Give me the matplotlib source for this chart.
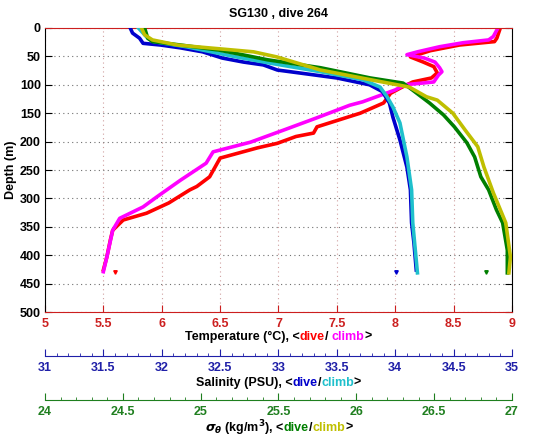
import matplotlib
matplotlib.use("Agg")
import matplotlib.pyplot as plt
import numpy as np

# Temperature dive / climb (depth m, deg C)
td_depth = [0, 18, 24, 27, 30, 40, 51, 60, 68, 79, 88, 95, 105, 115, 132, 150, 174, 185, 191, 203, 211, 229, 262, 279, 285, 308, 326, 338, 356, 373, 403, 426]
td_temp = [8.90, 8.87, 8.85, 8.70, 8.55, 8.30, 8.13, 8.24, 8.33, 8.36, 8.31, 8.15, 8.05, 7.96, 7.90, 7.70, 7.33, 7.30, 7.15, 6.99, 6.82, 6.50, 6.41, 6.30, 6.24, 6.06, 5.87, 5.67, 5.58, 5.56, 5.53, 5.50]
tc_depth = [0, 15, 21, 26, 33, 42, 47, 53, 60, 70, 77, 83, 95, 100, 109, 130, 136, 158, 180, 201, 218, 238, 268, 297, 315, 335, 356, 403, 429]
tc_temp = [8.88, 8.84, 8.80, 8.58, 8.38, 8.19, 8.10, 8.25, 8.34, 8.38, 8.40, 8.37, 8.33, 8.08, 8.00, 7.72, 7.61, 7.33, 7.04, 6.76, 6.44, 6.38, 6.16, 5.96, 5.84, 5.64, 5.58, 5.53, 5.50]

# Salinity dive / climb (PSU)
sd_depth = [0, 9, 18, 27, 30, 35, 42, 53, 60, 65, 74, 80, 88, 100, 112, 132, 157, 197, 245, 285, 343, 378, 426]
sd_sal = [31.73, 31.75, 31.81, 31.84, 31.99, 32.16, 32.35, 32.52, 32.70, 32.87, 32.99, 33.21, 33.50, 33.78, 33.89, 33.95, 33.98, 34.04, 34.10, 34.13, 34.14, 34.16, 34.18]
sc_depth = [0, 18, 24, 33, 51, 62, 77, 91, 104, 121, 139, 167, 227, 285, 343, 431]
sc_sal = [31.80, 31.88, 31.93, 32.21, 32.64, 32.93, 33.36, 33.72, 33.87, 33.93, 33.98, 34.04, 34.10, 34.14, 34.15, 34.19]

# Sigma-theta dive / climb (kg/m3)
gd_depth = [0, 18, 24, 30, 39, 56, 70, 88, 97, 109, 132, 153, 174, 202, 227, 262, 285, 320, 343, 391, 431]
gd_sig = [24.64, 24.66, 24.69, 24.87, 25.12, 25.43, 25.77, 26.09, 26.30, 26.36, 26.47, 26.56, 26.63, 26.71, 26.76, 26.80, 26.85, 26.90, 26.94, 26.97, 26.97]
gc_depth = [0, 12, 21, 30, 33, 42, 51, 74, 91, 104, 121, 127, 150, 180, 209, 245, 290, 343, 403, 431]
gc_sig = [24.62, 24.64, 24.69, 24.85, 24.97, 25.34, 25.49, 25.77, 26.09, 26.34, 26.45, 26.52, 26.62, 26.70, 26.78, 26.82, 26.88, 26.96, 26.99, 26.98]

# stray bottom points
end_depth = 429
end_temp = 5.60
end_sal = 34.01
end_sig = 26.83

temp_ticks = np.arange(5, 9.01, 0.5)
sal_ticks = np.arange(31, 35.01, 0.5)
sig_ticks = np.arange(24, 27.01, 0.5)
depth_ticks = np.arange(0, 501, 50)

c_tax = "#cc1f1f"
c_sax = "#1f1fa8"
c_gax = "#1f7f1f"

plt.rcParams["font.family"] = ["Liberation Sans", "DejaVu Sans"]
plt.rcParams["font.weight"] = "bold"
plt.rcParams["font.size"] = 9

fig = plt.figure(figsize=(5.35, 4.42), dpi=100)
L, R = 0.0841, 0.957
ax = fig.add_axes([L, 0.294, R - L, 0.9367 - 0.294])

ax.set_xlim(5, 9)
ax.set_ylim(500, 0)
ax.set_xticks(temp_ticks)
ax.set_xticklabels([f"{t:g}" for t in temp_ticks], color=c_tax, fontweight="bold")
ax.set_yticks(depth_ticks)
ax.tick_params(axis="x", direction="in", top=True, colors=c_tax, length=5, pad=4)
ax.tick_params(axis="y", direction="in", right=True, length=5, pad=3)
ax.spines["top"].set_color(c_tax)
ax.spines["bottom"].set_color(c_tax)
ax.xaxis.grid(True, linestyle=(0, (1, 3)), color="#d0a0a0", lw=0.8)
ax.yaxis.grid(True, linestyle=(0, (1, 3)), color="#707070", lw=0.8)
ax.set_axisbelow(True)
ax.set_ylabel("Depth (m)", fontweight="bold", labelpad=2)
fig.text((L + R) / 2, 1 - 14 / 442, "SG130 , dive 264", ha="center", va="center",
         fontweight="bold", fontsize=9)

ax.plot(td_temp, td_depth, color="#ff0000", lw=2.6)
ax.plot(tc_temp, tc_depth, color="#ff00ff", lw=2.6)
ax.plot([end_temp], [end_depth], "v", color="#ff0000", ms=2.5)

axs = ax.twiny()
axs.set_xlim(31, 35)
axs.set_ylim(500, 0)
axs.axis("off")
axs.plot(sd_sal, sd_depth, color="#0000cc", lw=2.6)
axs.plot(sc_sal, sc_depth, color="#1fc0cc", lw=2.6)
axs.plot([end_sal], [end_depth], "v", color="#0000cc", ms=2.5)

axg = ax.twiny()
axg.set_xlim(24, 27)
axg.set_ylim(500, 0)
axg.axis("off")
axg.plot(gd_sig, gd_depth, color="#007f00", lw=2.6)
axg.plot(gc_sig, gc_depth, color="#bfbf00", lw=2.6)
axg.plot([end_sig], [end_depth], "v", color="#007f00", ms=2.5)


def extra_axis(y, lim, ticks, col):
    a = fig.add_axes([L, y, R - L, 0.0001])
    a.set_xlim(*lim)
    a.set_ylim(0, 1)
    for s in ["top", "left", "right"]:
        a.spines[s].set_visible(False)
    a.spines["bottom"].set_color(col)
    a.set_yticks([])
    a.set_xticks(ticks)
    a.set_xticks(np.arange(lim[0], lim[1] + 0.001, 0.1), minor=True)
    a.set_xticklabels([f"{t:g}" for t in ticks])
    a.tick_params(axis="x", which="major", direction="in", length=5, colors=col, pad=4)
    a.tick_params(axis="x", which="minor", direction="in", length=2.5, colors=col)
    a.patch.set_visible(False)
    return a


extra_axis(1 - 356 / 442, (31, 35), sal_ticks, c_sax)
extra_axis(1 - 400 / 442, (24, 27), sig_ticks, c_gax)


def color_label(y, pieces):
    cx = (L + R) / 2
    texts = [fig.text(0, y, s, color=c, fontweight="bold", fontsize=9, va="center") for s, c in pieces]
    fig.canvas.draw()
    r = fig.canvas.get_renderer()
    widths = [t.get_window_extent(r).width / fig.bbox.width for t in texts]
    x = cx - sum(widths) / 2
    for t, w in zip(texts, widths):
        t.set_x(x)
        x += w


color_label(1 - 337 / 442, [("Temperature (\u00b0C), <", "black"), ("dive", "#ff0000"),
                            ("/ ", "black"), ("climb", "#ff00ff"), (">", "black")])
color_label(1 - 383 / 442, [("Salinity (PSU), <", "black"), ("dive", "#0000cc"),
                            ("/", "black"), ("climb", "#1fc0cc"), (">", "black")])
color_label(1 - 428 / 442, [(r"$\sigma_\theta$ (kg/m$^3$), <", "black"), ("dive", "#007f00"),
                            ("/", "black"), ("climb", "#bfbf00"), (">", "black")])

fig.savefig("out.png", dpi=100)
